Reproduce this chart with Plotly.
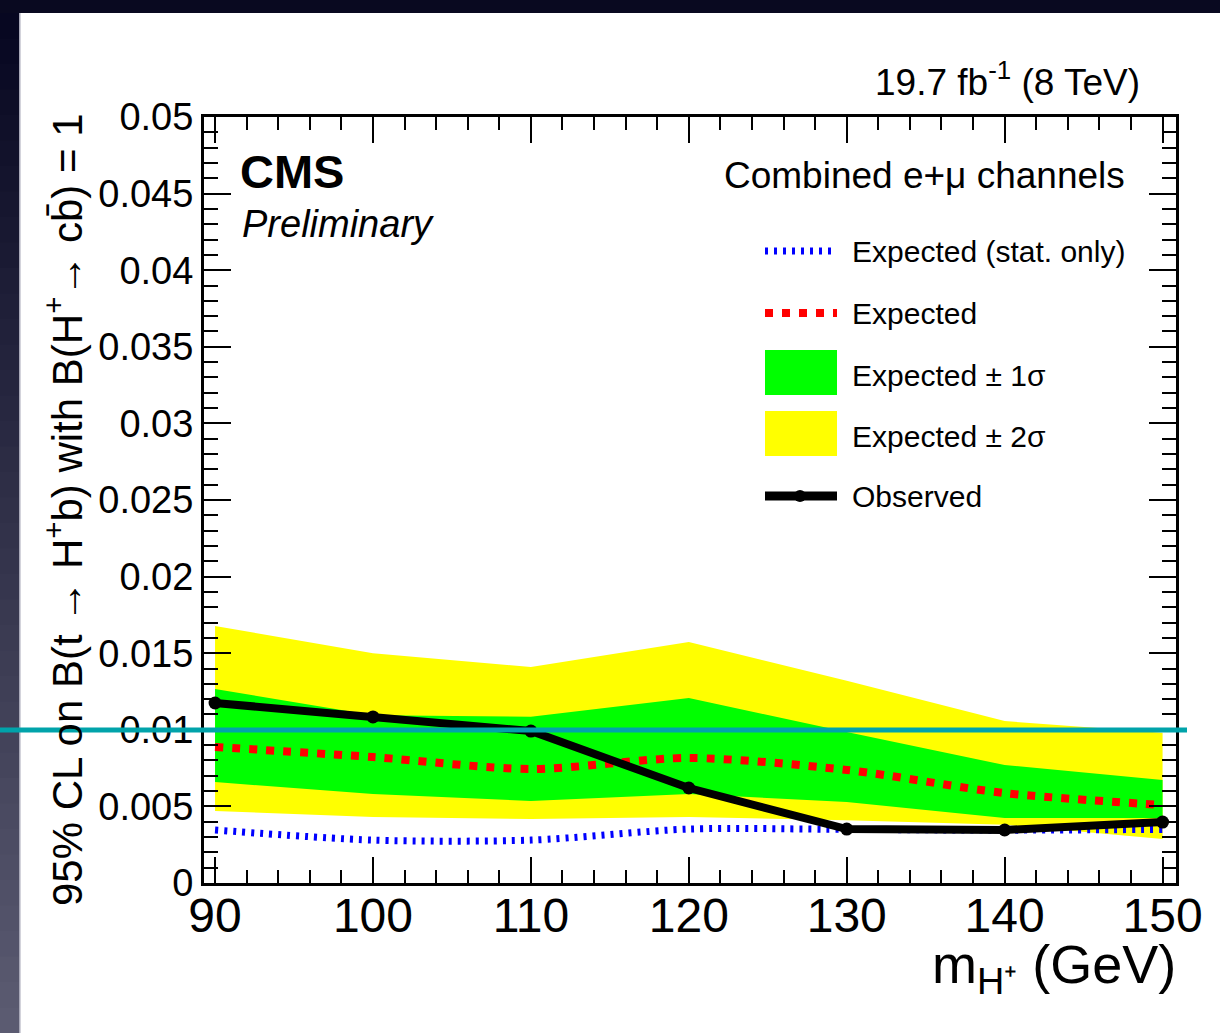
import plotly.graph_objects as go

# ---- data ----
mass = [90, 100, 110, 120, 130, 140, 150]
observed = [0.01175, 0.01084, 0.00992, 0.00620, 0.00352, 0.00346, 0.00398]
expected = [0.00888, 0.00822, 0.00744, 0.00816, 0.00738, 0.00587, 0.00509]
exp_stat = [0.00346, 0.00280, 0.00280, 0.00352, 0.00350, 0.00345, 0.00350]
sig1_lo = [0.00659, 0.00581, 0.00535, 0.00581, 0.00529, 0.00424, 0.00424]
sig1_hi = [0.01266, 0.01095, 0.01085, 0.01208, 0.00985, 0.00770, 0.00672]
sig2_lo = [0.00470, 0.00431, 0.00418, 0.00431, 0.00410, 0.00380, 0.00287]
sig2_hi = [0.01678, 0.01500, 0.01410, 0.01573, 0.01320, 0.01057, 0.00980]

x_ticks = [90, 100, 110, 120, 130, 140, 150]

legend_labels = ["Expected (stat. only)", "Expected", "Expected \u00b1 1\u03c3",
                 "Expected \u00b1 2\u03c3", "Observed"]

FONT = "Liberation Sans, Arial, Helvetica, sans-serif"
W, H = 1220, 1033
L, R, T, B = 204, 44, 117, 150
PW, PH = W - L - R, H - T - B


def px_x(p):
    return (p - L) / PW


def px_y(p):
    return (H - B - p) / PH


fig = go.Figure()

# 2 sigma band
fig.add_trace(go.Scatter(x=mass, y=sig2_lo, mode="lines", line=dict(width=0, color="#ffff00"),
                         showlegend=False, hoverinfo="skip"))
fig.add_trace(go.Scatter(x=mass, y=sig2_hi, mode="lines", line=dict(width=0, color="#ffff00"),
                         fill="tonexty", fillcolor="#ffff00", showlegend=False))
# 1 sigma band
fig.add_trace(go.Scatter(x=mass, y=sig1_lo, mode="lines", line=dict(width=0, color="#00ff00"),
                         showlegend=False, hoverinfo="skip"))
fig.add_trace(go.Scatter(x=mass, y=sig1_hi, mode="lines", line=dict(width=0, color="#00ff00"),
                         fill="tonexty", fillcolor="#00ff00", showlegend=False))
# expected stat only
fig.add_trace(go.Scatter(x=mass, y=exp_stat, mode="lines",
                         line=dict(color="#0000ff", width=7, dash="3px,6px", shape="spline", smoothing=0.8),
                         showlegend=False))
# expected
fig.add_trace(go.Scatter(x=mass, y=expected, mode="lines",
                         line=dict(color="#ff0000", width=8, dash="8px,9px", shape="spline", smoothing=0.8),
                         showlegend=False))
# observed
fig.add_trace(go.Scatter(x=mass, y=observed, mode="lines+markers",
                         line=dict(color="black", width=8),
                         marker=dict(color="black", size=13, symbol="circle"),
                         showlegend=False))

shapes = []
# slide frame: dark top strip and left gradient strip
shapes.append(dict(type="rect", xref="paper", yref="paper", x0=px_x(0), x1=px_x(W),
                   y0=px_y(13), y1=px_y(0), fillcolor="#090920", line=dict(width=0), layer="below"))
n = 40
c0 = (6, 6, 32)
c1 = (92, 92, 114)
for i in range(n):
    y_top = 13 + (H - 13) * i / n
    y_bot = 13 + (H - 13) * (i + 1) / n + 1
    f = (i + 0.5) / n
    col = tuple(int(round(a + (b - a) * f)) for a, b in zip(c0, c1))
    shapes.append(dict(type="rect", xref="paper", yref="paper", x0=px_x(0), x1=px_x(19),
                       y0=px_y(y_bot), y1=px_y(y_top), fillcolor="rgb(%d,%d,%d)" % col,
                       line=dict(width=0), layer="below"))
shapes.append(dict(type="rect", xref="paper", yref="paper", x0=px_x(19), x1=px_x(20.5),
                   y0=px_y(H), y1=px_y(13), fillcolor="#a8a8b8", line=dict(width=0), layer="below"))

# manual legend symbols
lx0, lx1 = px_x(765), px_x(837)
rows = [251, 313, 375, 436, 496]
shapes.append(dict(type="line", xref="paper", yref="paper", x0=lx0, x1=lx1, y0=px_y(rows[0]), y1=px_y(rows[0]),
                   line=dict(color="#0000ff", width=7, dash="3px,6px")))
shapes.append(dict(type="line", xref="paper", yref="paper", x0=lx0, x1=lx1, y0=px_y(rows[1]), y1=px_y(rows[1]),
                   line=dict(color="#ff0000", width=8, dash="8px,9px")))
shapes.append(dict(type="rect", xref="paper", yref="paper", x0=lx0, x1=lx1, y0=px_y(395), y1=px_y(350),
                   fillcolor="#00ff00", line=dict(width=0)))
shapes.append(dict(type="rect", xref="paper", yref="paper", x0=lx0, x1=lx1, y0=px_y(456), y1=px_y(411),
                   fillcolor="#ffff00", line=dict(width=0)))
shapes.append(dict(type="line", xref="paper", yref="paper", x0=lx0, x1=lx1, y0=px_y(rows[4]), y1=px_y(rows[4]),
                   line=dict(color="black", width=9)))
shapes.append(dict(type="circle", xref="paper", yref="paper", x0=px_x(794), x1=px_x(806),
                   y0=px_y(502), y1=px_y(490), fillcolor="black", line=dict(width=0)))

# teal overlay line
shapes.append(dict(type="line", xref="paper", yref="paper", x0=px_x(0), x1=px_x(1187),
                   y0=px_y(730), y1=px_y(730), line=dict(color="#00a3aa", width=5)))

annotations = []
for yy, lab in zip(rows, legend_labels):
    annotations.append(dict(x=px_x(850), y=px_y(yy), xref="paper", yref="paper", text=lab,
                            xanchor="left", yanchor="middle", showarrow=False,
                            font=dict(family=FONT, size=30, color="black")))
annotations += [
    dict(x=px_x(1142), y=px_y(80), xref="paper", yref="paper", text="19.7 fb<sup>-1</sup> (8 TeV)",
         xanchor="right", yanchor="middle", showarrow=False, font=dict(family=FONT, size=37, color="black")),
    dict(x=px_x(238), y=px_y(172), xref="paper", yref="paper", text="<b>CMS</b>",
         xanchor="left", yanchor="middle", showarrow=False, font=dict(family=FONT, size=47, color="black")),
    dict(x=px_x(240), y=px_y(224), xref="paper", yref="paper", text="<i>Preliminary</i>",
         xanchor="left", yanchor="middle", showarrow=False, font=dict(family=FONT, size=38, color="black")),
    dict(x=px_x(1127), y=px_y(175), xref="paper", yref="paper", text="Combined e+\u03bc channels",
         xanchor="right", yanchor="middle", showarrow=False, font=dict(family=FONT, size=37, color="black")),
    dict(x=px_x(1178), y=px_y(968), xref="paper", yref="paper", text="m<sub>H\u207a</sub> (GeV)",
         xanchor="right", yanchor="middle", showarrow=False, font=dict(family=FONT, size=54, color="black")),
    dict(x=px_x(64), y=px_y(510), xref="paper", yref="paper", textangle=-90,
         text="95% CL on B(t \u2192 H<sup>+</sup>b) with B(H<sup>+</sup>\u2192 cb\u0304) = 1",
         xanchor="center", yanchor="middle", showarrow=False, font=dict(family=FONT, size=42, color="black")),
]

fig.update_layout(
    width=W, height=H,
    margin=dict(l=L, r=R, t=T, b=B),
    paper_bgcolor="white", plot_bgcolor="white",
    shapes=shapes, annotations=annotations,
    showlegend=False,
)
fig.update_xaxes(range=[89.3, 150.85], tickvals=x_ticks, ticktext=[str(v) for v in x_ticks],
                 ticks="inside", ticklen=26, tickwidth=2, tickcolor="black",
                 minor=dict(dtick=2, tick0=90, ticks="inside", ticklen=13, tickwidth=2, tickcolor="black"),
                 showline=True, linecolor="black", linewidth=3, mirror="ticks", showgrid=False, zeroline=False,
                 tickfont=dict(family=FONT, size=48, color="black"), ticklabelstandoff=-12)
fig.update_yaxes(range=[0, 0.05], dtick=0.005, tick0=0,
                 ticks="inside", ticklen=27, tickwidth=2, tickcolor="black",
                 minor=dict(dtick=0.001, ticks="inside", ticklen=14, tickwidth=2, tickcolor="black"),
                 showline=True, linecolor="black", linewidth=3, mirror="ticks", showgrid=False, zeroline=False,
                 tickfont=dict(family=FONT, size=38, color="black"), ticklabelstandoff=0)

fig.write_html("out.html", config={"displayModeBar": False},
               post_script="document.body.style.margin='0';")
